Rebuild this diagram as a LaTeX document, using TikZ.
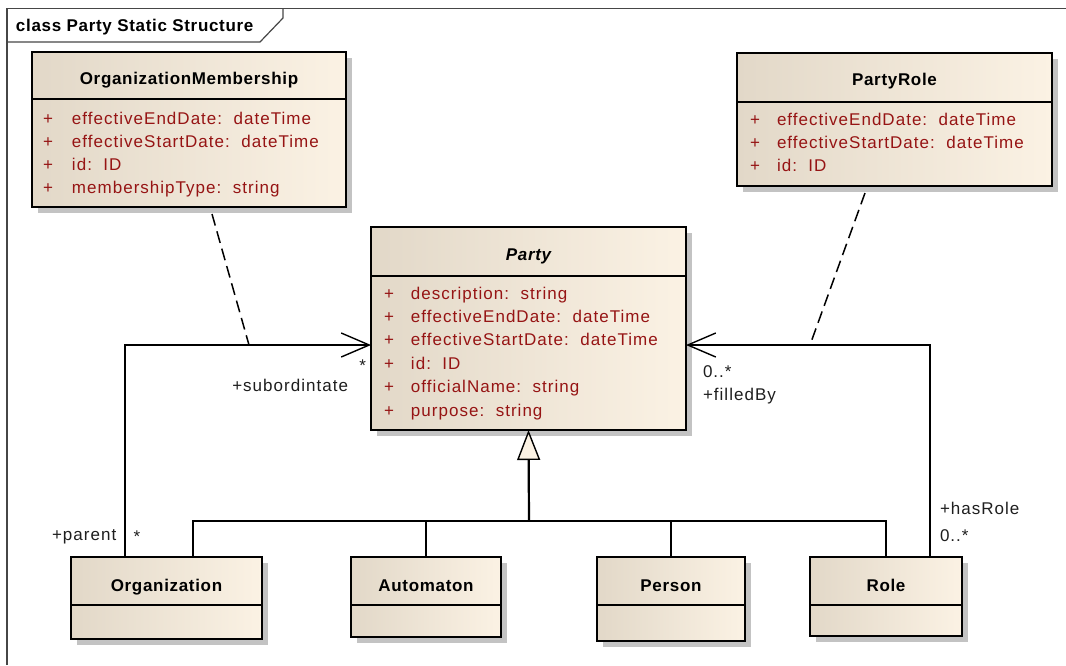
\documentclass[tikz,border=0pt]{standalone}
\usepackage{fontspec}
\setmainfont{Liberation Sans}[LetterSpace=6,BoldFeatures={LetterSpace=4},BoldItalicFeatures={LetterSpace=4}]
\usetikzlibrary{arrows.meta,shadows}
\definecolor{creamL}{RGB}{226,216,200}
\definecolor{creamR}{RGB}{251,242,228}
\definecolor{attrred}{RGB}{150,20,20}
\definecolor{framegray}{RGB}{70,70,70}
\definecolor{shadowgray}{RGB}{195,195,195}
\definecolor{labelgray}{RGB}{30,30,30}
\begin{document}
\begin{tikzpicture}[x=1pt,y=-1pt,
  every node/.style={font=\fontsize{17}{20}\selectfont, inner sep=0pt, outer sep=0pt},
  cls/.style={draw=black, line width=1.5pt, left color=creamL, right color=creamR, anchor=north west,
    drop shadow={shadow xshift=6pt, shadow yshift=-6pt, fill=shadowgray, opacity=1}},
  ctitle/.style={anchor=base, font=\fontsize{17}{20}\selectfont\bfseries},
  attr/.style={anchor=base west, text=attrred},
  sepline/.style={line width=1.5pt},
  lbl/.style={text=labelgray},
  assoc/.style={line width=1.4pt, -{Straight Barb[length=28pt,width=24pt,line width=1.4pt]}},
  plain/.style={line width=1.4pt},
  dashline/.style={line width=1.5pt, dash pattern=on 12pt off 6pt},
  genstem/.style={line width=2.2pt, -{Triangle[length=30pt,width=23pt,fill=creamR,line width=1.4pt]}},
  framel/.style={draw=framegray, line width=1.2pt}
]
\useasboundingbox (0,0) rectangle (1066,665);

% frame
\draw[framel] (7,665) -- (7,8.5) -- (1066,8.5);
\draw[framel] (7,42) -- (260,42) -- (283,18) -- (283,8.5);
\node[anchor=base west, font=\fontsize{17}{20}\selectfont\bfseries] (frametitle) at (16,31) {class Party Static Structure};

% classes
\node[cls, minimum width=314pt, minimum height=155pt] (om) at (32,52) {};
\node[cls, minimum width=315pt, minimum height=133pt] (pr) at (737,53) {};
\node[cls, minimum width=315pt, minimum height=203pt] (party) at (371,227) {};
\node[cls, minimum width=191pt, minimum height=82pt] (org) at (71,557) {};
\node[cls, minimum width=150pt, minimum height=80pt] (aut) at (351,557) {};
\node[cls, minimum width=148pt, minimum height=84pt] (per) at (597,557) {};
\node[cls, minimum width=152pt, minimum height=79pt] (role) at (810,557) {};

% separators
\draw[sepline] ([yshift=-47pt]om.north west) -- ([yshift=-47pt]om.north east);
\draw[sepline] ([yshift=-49pt]pr.north west) -- ([yshift=-49pt]pr.north east);
\draw[sepline] ([yshift=-49pt]party.north west) -- ([yshift=-49pt]party.north east);
\draw[sepline] ([yshift=-48pt]org.north west) -- ([yshift=-48pt]org.north east);
\draw[sepline] ([yshift=-48pt]aut.north west) -- ([yshift=-48pt]aut.north east);
\draw[sepline] ([yshift=-48pt]per.north west) -- ([yshift=-48pt]per.north east);
\draw[sepline] ([yshift=-48pt]role.north west) -- ([yshift=-48pt]role.north east);

% titles
\node[ctitle] (om-t) at ([yshift=-32pt]om.north) {OrganizationMembership};
\node[ctitle] (pr-t) at ([yshift=-32pt]pr.north) {PartyRole};
\node[ctitle, font=\fontsize{17}{20}\selectfont\bfseries\itshape] (party-t) at ([yshift=-33pt]party.north) {Party};
\node[ctitle] (org-t) at ([yshift=-34pt]org.north) {Organization};
\node[ctitle] (aut-t) at ([yshift=-34pt]aut.north) {Automaton};
\node[ctitle] (per-t) at ([yshift=-34pt]per.north) {Person};
\node[ctitle] (role-t) at ([yshift=-34pt]role.north) {Role};

% attributes
\foreach \t [count=\i] in {{effectiveEndDate:\ \ dateTime},{effectiveStartDate:\ \ dateTime},{id:\ \ ID},{membershipType:\ \ string}}
  \node[attr] (om-a\i) at ([xshift=11pt,yshift={-72pt-(\i-1)*23.3pt}]om.north west) {\makebox[29pt][l]{+}\t};
\foreach \t [count=\i] in {{effectiveEndDate:\ \ dateTime},{effectiveStartDate:\ \ dateTime},{id:\ \ ID}}
  \node[attr] (pr-a\i) at ([xshift=13pt,yshift={-72pt-(\i-1)*23.3pt}]pr.north west) {\makebox[27pt][l]{+}\t};
\foreach \t [count=\i] in {{description:\ \ string},{effectiveEndDate:\ \ dateTime},{effectiveStartDate:\ \ dateTime},{id:\ \ ID},{officialName:\ \ string},{purpose:\ \ string}}
  \node[attr] (party-a\i) at ([xshift=13pt,yshift={-72pt-(\i-1)*23.4pt}]party.north west) {\makebox[27pt][l]{+}\t};

% generalization
\coordinate (gj) at (529,521);
\draw[genstem] (gj) -- (party.south);
\draw[plain] ([xshift=122pt]org.north west) |- (gj) -| (role.north);
\draw[plain] (aut.north) -- (aut.north |- gj);
\draw[plain] (per.north) -- (per.north |- gj);

% associations
\draw[assoc] ([xshift=54pt]org.north west) |- ([yshift=-118pt]party.north west);
\draw[assoc] ([xshift=120pt]role.north west) |- ([yshift=-118pt]party.north east);

% association classes (dashed)
\coordinate (omj) at (249,345);
\coordinate (prj) at (810,345);
\draw[dashline] ([xshift=180pt,yshift=-7pt]om.south west) -- (omj);
\draw[dashline] ([xshift=128pt,yshift=-7pt]pr.south west) -- (prj);

% labels
\node[lbl, anchor=base east] (l-star1) at (366,371) {*};
\node[lbl, anchor=base east] (l-sub) at (348,391) {+subordintate};
\node[lbl, anchor=base west] (l-par) at (52,540) {+parent};
\node[lbl, anchor=base] (l-star2) at (137,542) {*};
\node[lbl, anchor=base west] (l-m1) at (703,377) {0..*};
\node[lbl, anchor=base west] (l-fill) at (703,400) {+filledBy};
\node[lbl, anchor=base west] (l-has) at (940,514) {+hasRole};
\node[lbl, anchor=base west] (l-m2) at (940,541) {0..*};
\end{tikzpicture}
\end{document}
